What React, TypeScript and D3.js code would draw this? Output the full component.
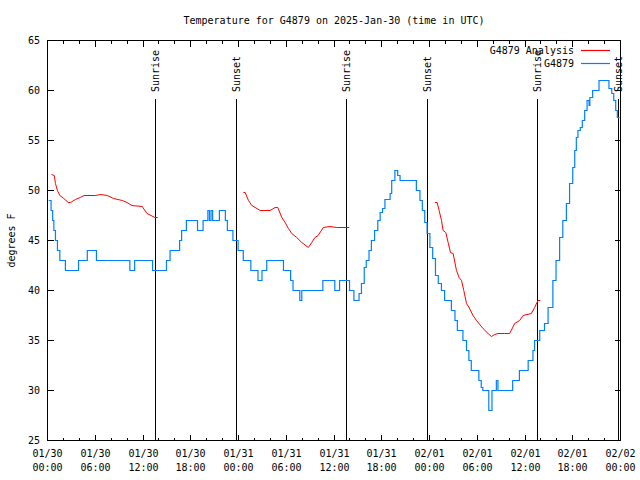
import React, { useRef, useEffect } from "react";
import * as d3 from "d3";

// hours since 2025-01-30 00:00 UTC, temperature in F
const observed: [number, number][] = [
  [0.15, 49], [0.45, 48], [0.65, 47], [0.8, 46], [1.0, 45], [1.25, 44], [1.55, 43],
  [2.25, 42], [3.9, 43], [5.0, 44], [6.15, 43], [10.35, 42], [10.95, 43], [13.2, 42],
  [14.95, 43], [15.4, 44], [16.6, 45], [16.85, 46], [17.45, 47], [18.85, 46], [19.55, 47],
  [20.15, 48], [20.35, 47], [20.55, 48], [20.75, 47], [21.6, 48], [22.35, 47], [22.6, 46],
  [23.3, 45], [23.95, 44], [24.6, 43], [25.55, 42], [26.45, 41], [26.95, 42], [27.55, 43],
  [29.65, 42], [30.55, 41], [30.85, 40], [31.7, 39], [31.95, 40], [34.6, 41], [36.1, 40],
  [36.7, 41], [37.95, 40], [38.5, 39], [39.15, 39.7], [39.45, 40.7], [39.8, 42.3],
  [40.05, 43], [40.4, 44], [40.7, 45], [41.1, 46], [41.5, 47], [41.8, 47.8], [42.1, 48.2],
  [42.4, 49.1], [43.05, 49.7], [43.25, 51], [43.65, 52], [44.0, 51.5], [44.3, 51],
  [46.35, 50], [46.8, 49], [47.1, 48], [47.4, 46.8], [47.7, 45.7], [48.05, 44.3],
  [48.4, 43.2], [48.75, 41.5], [49.1, 40.7], [49.5, 40], [49.9, 39], [50.75, 38],
  [51.2, 37], [51.5, 36], [52.2, 35], [52.65, 34], [52.95, 33], [53.25, 32], [54.2, 31],
  [54.5, 30.3], [54.7, 30], [55.45, 28], [55.85, 30], [56.4, 31], [56.6, 30], [58.45, 31],
  [59.3, 32], [60.4, 33], [61.0, 34], [61.2, 35], [61.85, 36], [62.45, 36.7], [62.9, 38.3],
  [63.5, 41], [63.9, 43], [64.35, 45.3], [64.75, 47], [65.2, 48.7], [65.6, 50.7],
  [66.0, 52.3], [66.25, 54], [66.45, 55.3], [66.65, 56], [66.95, 56.3], [67.2, 57],
  [67.5, 58], [67.8, 59], [68.05, 58.5], [68.15, 59.3], [68.5, 60], [69.3, 61],
  [70.55, 60.2], [70.9, 59.7], [71.15, 59], [71.4, 58], [71.6, 57.3], [71.8, 57.2],
];

const analysisDay1: [number, number][] = [
  [0.5, 51.6], [0.85, 51.5], [1.0, 50.7], [1.25, 50.0], [1.55, 49.5], [2.05, 49.2],
  [2.6, 48.8], [2.9, 48.8], [3.5, 49.1], [4.1, 49.3], [4.6, 49.5], [6.0, 49.5],
  [6.7, 49.6], [7.5, 49.5], [8.3, 49.2], [9.4, 49.0], [10.0, 48.8], [10.6, 48.5],
  [11.9, 48.4], [12.5, 47.7], [13.5, 47.3], [13.85, 47.3],
];

const analysisDay2: [number, number][] = [
  [24.62, 49.8], [24.84, 49.8], [25.25, 49.0], [25.68, 48.5], [26.72, 48.0], [27.97, 48.0],
  [28.6, 48.3], [28.94, 48.3], [29.44, 47.3], [29.86, 46.8], [30.27, 46.2], [30.7, 45.7],
  [31.32, 45.3], [31.95, 44.8], [32.78, 44.3], [33.2, 44.8], [33.6, 45.3], [34.0, 45.5],
  [34.66, 46.3], [35.5, 46.4], [36.34, 46.3], [37.92, 46.3],
];

const analysisDay3: [number, number][] = [
  [48.67, 48.8], [48.96, 48.8], [49.21, 48.0], [49.51, 47.0], [49.71, 46.0], [50.05, 45.8],
  [50.34, 44.8], [50.64, 43.8], [50.97, 43.7], [51.39, 42.0], [51.72, 41.3], [52.02, 41.0],
  [52.31, 40.0], [52.65, 38.7], [52.97, 38.3], [53.47, 37.5], [53.9, 37.0], [54.73, 36.2],
  [55.36, 35.7], [55.78, 35.4], [56.2, 35.6], [56.61, 35.7], [57.45, 35.7], [58.08, 35.7],
  [58.7, 36.7], [59.33, 37.0], [59.75, 37.5], [60.8, 37.7], [61.21, 38.3], [61.63, 39.0],
  [61.93, 39.0],
];

const sunHours = [13.55, 23.78, 37.59, 47.75, 61.63, 71.7];
const sunLabels = ["Sunrise", "Sunset", "Sunrise", "Sunset", "Sunrise", "Sunset"];
const yTicks = [25, 30, 35, 40, 45, 50, 55, 60, 65];

const START = Date.UTC(2025, 0, 30);
const toDate = (h: number) => new Date(START + h * 3600 * 1000);

const FONT = "'DejaVu Sans Mono', monospace";
const RED = "#ff0000";
const BLUE = "#0080ff";

const App: React.FC = () => {
  const svgRef = useRef<SVGSVGElement | null>(null);

  useEffect(() => {
    document.body.style.margin = "0";
    const width = 640;
    const height = 480;
    const left = 47.5;
    const right = 620.5;
    const top = 40.5;
    const bottom = 440.5;

    const svg = d3.select(svgRef.current).attr("width", width).attr("height", height);
    svg.selectAll("*").remove();

    const x = d3.scaleUtc().domain([toDate(0), toDate(72)]).range([left, right]);
    const y = d3.scaleLinear().domain([25, 65]).range([bottom, top]);

    svg.append("rect").attr("width", width).attr("height", height).attr("fill", "white");

    // title
    svg
      .append("text")
      .attr("x", (left + right) / 2)
      .attr("y", 20)
      .attr("dy", "0.35em")
      .attr("text-anchor", "middle")
      .style("font-family", FONT)
      .style("font-size", "10px")
      .text("Temperature for G4879 on 2025-Jan-30 (time in UTC)");

    // y label
    svg
      .append("text")
      .attr("transform", `translate(11,${(top + bottom) / 2}) rotate(-90)`)
      .attr("dy", "0.35em")
      .attr("text-anchor", "middle")
      .style("font-family", FONT)
      .style("font-size", "10px")
      .text("degrees F");

    const axes = svg.append("g").attr("stroke", "black").attr("shape-rendering", "crispEdges");

    // y ticks (left + mirrored right)
    yTicks.forEach((v) => {
      const yy = Math.round(y(v) - 0.5) + 0.5;
      axes.append("line").attr("x1", left).attr("x2", left + 6).attr("y1", yy).attr("y2", yy);
      axes.append("line").attr("x1", right).attr("x2", right - 6).attr("y1", yy).attr("y2", yy);
      svg
        .append("text")
        .attr("x", 40)
        .attr("y", yy)
        .attr("dy", "0.35em")
        .attr("text-anchor", "end")
        .style("font-family", FONT)
        .style("font-size", "10px")
        .text(v);
    });

    // x ticks
    const minor = d3.utcHour.every(2)!.range(toDate(0), toDate(72.01));
    minor.forEach((d) => {
      const isMajor = d.getUTCHours() % 6 === 0;
      const len = isMajor ? 6 : 3;
      const xx = Math.round(x(d) - 0.5) + 0.5;
      axes.append("line").attr("x1", xx).attr("x2", xx).attr("y1", bottom).attr("y2", bottom - len);
      axes.append("line").attr("x1", xx).attr("x2", xx).attr("y1", top).attr("y2", top + len);
      if (isMajor) {
        const lab = svg
          .append("text")
          .attr("x", xx)
          .attr("text-anchor", "middle")
          .style("font-family", FONT)
          .style("font-size", "10px");
        lab.append("tspan").attr("x", xx).attr("y", 457).text(d3.utcFormat("%m/%d")(d));
        lab.append("tspan").attr("x", xx).attr("y", 471).text(d3.utcFormat("%H:%M")(d));
      }
    });

    // sunrise / sunset markers
    sunHours.forEach((h, i) => {
      const xx = Math.round(x(toDate(h)) - 0.5) + 0.5;
      axes.append("line").attr("x1", xx).attr("x2", xx).attr("y1", 99).attr("y2", bottom);
      svg
        .append("text")
        .attr("transform", `translate(${xx},92) rotate(-90)`)
        .attr("dy", "0.35em")
        .attr("text-anchor", "start")
        .style("font-family", FONT)
        .style("font-size", "10px")
        .text(sunLabels[i]);
    });

    // analysis
    const smooth = d3
      .line<[number, number]>()
      .x((d) => x(toDate(d[0])))
      .y((d) => y(d[1]));
    [analysisDay1, analysisDay2, analysisDay3].forEach((seg) => {
      svg
        .append("path")
        .attr("d", smooth(seg))
        .attr("fill", "none")
        .attr("stroke", RED)
        .attr("stroke-width", 1);
    });

    // observed
    const step = d3
      .line<[number, number]>()
      .curve(d3.curveStepAfter)
      .x((d) => x(toDate(d[0])))
      .y((d) => y(d[1]));
    svg
      .append("path")
      .attr("d", step(observed))
      .attr("fill", "none")
      .attr("stroke", BLUE)
      .attr("stroke-width", 1.2);

    // border
    axes
      .append("rect")
      .attr("x", left)
      .attr("y", top)
      .attr("width", right - left)
      .attr("height", bottom - top)
      .attr("fill", "none");

    // legend
    const legend = [
      { name: "G4879 Analysis", color: RED, y: 50 },
      { name: "G4879", color: BLUE, y: 63 },
    ];
    legend.forEach((l) => {
      svg
        .append("text")
        .attr("x", 574)
        .attr("y", l.y)
        .attr("dy", "0.35em")
        .attr("text-anchor", "end")
        .style("font-family", FONT)
        .style("font-size", "10px")
        .text(l.name);
      svg
        .append("line")
        .attr("x1", 581)
        .attr("x2", 610)
        .attr("y1", l.y + 0.5)
        .attr("y2", l.y + 0.5)
        .attr("stroke", l.color)
        .attr("stroke-width", 1.2);
    });
  }, []);

  return <svg ref={svgRef} style={{ display: "block" }} />;
};

export default App;
